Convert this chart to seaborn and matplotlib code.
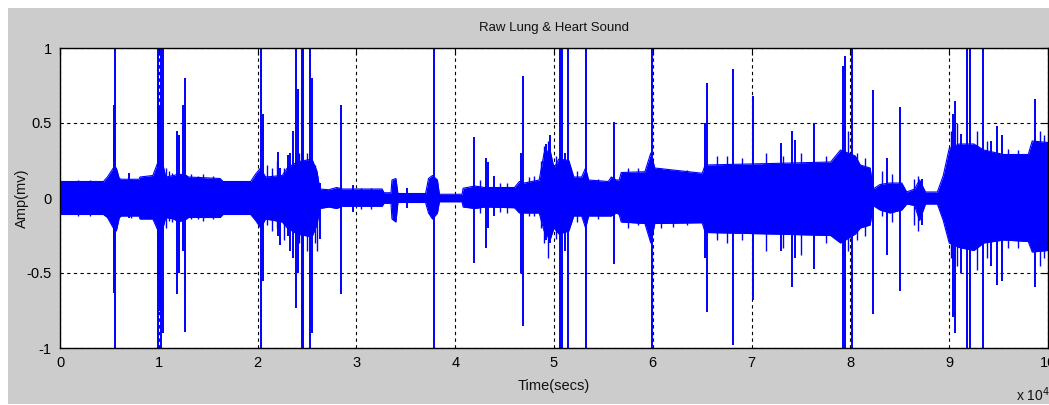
import numpy as np
import pandas as pd
import seaborn as sns
import matplotlib
matplotlib.use("Agg")
import matplotlib.pyplot as plt
from matplotlib.patches import Rectangle
from matplotlib.ticker import FixedLocator, FuncFormatter

# ---------------- data ----------------
# envelope of the dense waveform: sample index, upper and lower amplitude (mV)
env_x = [0, 4400, 4800, 5400, 5700, 6000, 6200, 8000, 8100, 9400, 9800, 10200,
         10500, 10700, 11500, 12000, 12800, 13000, 16200, 16500, 19300, 19800,
         20300, 20800, 22500, 23000, 24000, 25500, 26000, 26300, 27200, 28000,
         28600, 32600, 32800, 33500, 33600, 34000, 34200, 37000, 37300, 37700,
         38200, 38400, 40700, 40800, 42000, 43000, 46000, 46500, 47000, 48500,
         49000, 49600, 50000, 50500, 51500, 52000, 52800, 53200, 53500, 55500,
         55800, 56300, 56600, 56800, 59200, 59800, 60200, 65000, 65300, 72000,
         78000, 79000, 80500, 81000, 82000, 82300, 83000, 84000, 85200, 85700,
         86500, 87000, 87600, 88800, 89400, 90000, 91000, 92500, 93500, 95500,
         98000, 98400, 100000]
env_hi = [0.11, 0.11, 0.14, 0.2, 0.2, 0.13, 0.125, 0.125, 0.14, 0.15, 0.22, 0.28,
          0.2, 0.14, 0.15, 0.16, 0.15, 0.14, 0.13, 0.11, 0.11, 0.16,
          0.2, 0.14, 0.15, 0.2, 0.24, 0.26, 0.18, 0.06, 0.055, 0.07,
          0.06, 0.06, 0.035, 0.035, 0.12, 0.13, 0.03, 0.03, 0.13, 0.15,
          0.12, 0.025, 0.025, 0.065, 0.08, 0.07, 0.07, 0.11, 0.1, 0.12,
          0.3, 0.32, 0.2, 0.26, 0.25, 0.14, 0.14, 0.2, 0.12, 0.11,
          0.14, 0.12, 0.12, 0.17, 0.175, 0.3, 0.2, 0.165, 0.22, 0.23,
          0.24, 0.32, 0.28, 0.22, 0.2, 0.06, 0.09, 0.1, 0.1, 0.04,
          0.06, 0.12, 0.04, 0.04, 0.15, 0.33, 0.36, 0.36, 0.32, 0.29,
          0.29, 0.38, 0.37]
env_lo = [-0.11, -0.11, -0.13, -0.2, -0.22, -0.13, -0.12, -0.12, -0.14, -0.14, -0.2, -0.26,
          -0.18, -0.13, -0.14, -0.16, -0.14, -0.13, -0.13, -0.11, -0.11, -0.15,
          -0.2, -0.14, -0.16, -0.2, -0.24, -0.26, -0.18, -0.07, -0.06, -0.07,
          -0.055, -0.055, -0.035, -0.035, -0.14, -0.16, -0.03, -0.03, -0.1, -0.14,
          -0.1, -0.025, -0.025, -0.06, -0.07, -0.06, -0.065, -0.1, -0.1, -0.1,
          -0.22, -0.28, -0.2, -0.24, -0.22, -0.12, -0.12, -0.2, -0.12, -0.12,
          -0.12, -0.1, -0.11, -0.16, -0.17, -0.3, -0.17, -0.165, -0.23, -0.24,
          -0.25, -0.3, -0.24, -0.2, -0.18, -0.05, -0.08, -0.1, -0.08, -0.04,
          -0.05, -0.15, -0.04, -0.04, -0.15, -0.3, -0.33, -0.35, -0.3, -0.28,
          -0.29, -0.36, -0.35]

# large spikes: sample index, peak (+) and trough (-) amplitude (mV)
spike_x = [5450, 5500, 5566, 6980, 9900, 9918, 10100, 10200, 10424, 11840, 12000,
           12400, 12650, 20340, 20500, 22090, 22260, 23080, 23300, 23600, 23880,
           24050, 24490, 24590, 25300, 25550, 26300, 28440, 29650, 35100, 37850,
           41930, 43110, 43280, 43920, 46700, 46820, 49200, 49590, 50600, 50770,
           51100, 51440, 53230, 56100, 59880, 65300, 65480, 68110, 70130, 72960,
           74080, 74380, 76300, 79240, 79440, 80150, 82280, 83690, 85010, 87200,
           90400, 90570, 91200, 91790, 92090, 93410, 94200, 94820, 95330, 98670]
spike_hi = [0.4, 0.62, 1.0, 0.17, 0.8, 1.0, 0.6, 1.0, 1.0, 0.45, 0.42,
            0.62, 0.8, 1.0, 0.56, 0.31, 0.2, 0.29, 0.3, 0.45, 1.0,
            0.73, 1.0, 1.0, 1.0, 0.8, 0.1, 0.62, 0.09, 0.07, 1.0,
            0.41, 0.27, 0.24, 0.15, 0.3, 0.81, 0.36, 0.42, 1.0, 1.0,
            0.3, 1.0, 1.0, 0.51, 1.0, 0.5, 0.77, 0.86, 0.68, 0.37,
            0.45, 0.39, 0.5, 0.88, 0.95, 1.0, 0.72, 0.27, 0.61, 0.13,
            0.56, 0.65, 0.43, 1.0, 1.0, 1.0, 0.38, 0.48, 0.42, 0.66]
spike_lo = [-0.3, -0.63, -1.0, -0.13, -0.5, -1.0, -0.75, -1.0, -0.9, -0.64, -0.5,
            -0.35, -0.89, -1.0, -0.55, -0.25, -0.31, -0.25, -0.35, -0.4, -0.73,
            -0.5, -1.0, -1.0, -1.0, -0.9, -0.27, -0.64, -0.09, -0.065, -1.0,
            -0.43, -0.33, -0.2, -0.12, -0.5, -0.85, -0.28, -0.3, -1.0, -1.0,
            -0.35, -1.0, -1.0, -0.44, -1.0, -0.4, -0.76, -0.98, -0.68, -0.35,
            -0.59, -0.4, -0.47, -1.0, -1.0, -1.0, -0.77, -0.38, -0.62, -0.18,
            -0.79, -0.9, -0.5, -1.0, -1.0, -1.0, -0.45, -0.58, -0.55, -0.59]

# small ripples poking out of the band
ripple_x = [1800, 3000, 7200, 10700, 11000, 11300, 13300, 14000, 14500, 15500,
            21000, 21500, 22000, 22700, 24200, 25000, 25800, 26000, 30500, 31500,
            42500, 44500, 45200, 47500, 48000, 48700, 49000, 49400, 50200, 52300,
            54500, 57500, 58500, 60800, 62000, 63500, 66500, 67500, 69000, 71500,
            73200, 75000, 77500, 79800, 80700, 81500, 83200, 84200, 86400, 86800,
            90200, 90800, 92800, 93800, 96000, 97000, 99200, 99600]
ripple_hi = [0.12, 0.12, 0.13, 0.2, 0.18, 0.17, 0.16, 0.15, 0.16, 0.15,
             0.22, 0.2, 0.25, 0.2, 0.3, 0.3, 0.22, 0.15, 0.07, 0.07,
             0.12, 0.1, 0.1, 0.14, 0.15, 0.25, 0.35, 0.38, 0.28, 0.18,
             0.13, 0.2, 0.2, 0.2, 0.19, 0.19, 0.28, 0.28, 0.27, 0.3,
             0.28, 0.3, 0.28, 0.45, 0.3, 0.27, 0.18, 0.16, 0.13, 0.15,
             0.45, 0.5, 0.45, 0.38, 0.33, 0.32, 0.45, 0.42]
ripple_lo = [-0.12, -0.12, -0.13, -0.2, -0.15, -0.16, -0.14, -0.14, -0.15, -0.14,
             -0.18, -0.22, -0.2, -0.28, -0.3, -0.35, -0.3, -0.35, -0.07, -0.07,
             -0.1, -0.09, -0.1, -0.12, -0.12, -0.2, -0.3, -0.4, -0.27, -0.16,
             -0.14, -0.2, -0.18, -0.2, -0.19, -0.18, -0.28, -0.3, -0.28, -0.35,
             -0.33, -0.38, -0.3, -0.35, -0.28, -0.25, -0.12, -0.16, -0.18, -0.22,
             -0.4, -0.45, -0.48, -0.4, -0.33, -0.33, -0.45, -0.4]

x_ticks = [0, 10000, 20000, 30000, 40000, 50000, 60000, 70000, 80000, 90000, 100000]
y_ticks = [-1, -0.5, 0, 0.5, 1]
y_tick_labels = ["-1", "-0.5", "0", "0.5", "1"]

title = "Raw Lung & Heart Sound"
x_label = "Time(secs)"
y_label = "Amp(mv)"

# ---------------- styling ----------------
sns.set_style("white")
FONT = ["Liberation Sans", "DejaVu Sans"]
plt.rcParams["font.family"] = FONT

W, H = 1049, 405
fig = plt.figure(figsize=(W / 100, H / 100), dpi=100)
fig.patch.set_facecolor("white")
fig.patches.append(Rectangle((8 / W, 1 / H), 1 - 8 / W, (H - 9) / H,
                             transform=fig.transFigure, facecolor="#cccccc",
                             edgecolor="none", zorder=-10))

ax = fig.add_axes([60 / W, (H - 348) / H, (1048 - 60) / W, 300 / H])
ax.set_facecolor("white")

blue = "#0000ff"
env = pd.DataFrame({"x": env_x, "hi": env_hi, "lo": env_lo})
ax.fill_between(env["x"], env["lo"], env["hi"], color=blue, linewidth=0, zorder=3)
sns.lineplot(data=env, x="x", y="hi", ax=ax, color=blue, linewidth=0.8, zorder=3)
sns.lineplot(data=env, x="x", y="lo", ax=ax, color=blue, linewidth=0.8, zorder=3)
ax.vlines(ripple_x, ripple_lo, ripple_hi, color=blue, linewidth=1.0, zorder=3)
ax.vlines(spike_x, spike_lo, spike_hi, color=blue, linewidth=1.4, zorder=3)

ax.set_xlim(0, 100000)
ax.set_ylim(-1, 1)
ax.xaxis.set_major_locator(FixedLocator(x_ticks))
ax.xaxis.set_major_formatter(FuncFormatter(lambda v, p: f"{v / 1e4:g}"))
ax.set_yticks(y_ticks)
ax.set_yticklabels(y_tick_labels)

ax.grid(True, color="black", linestyle=(0, (3, 3)), linewidth=0.8, zorder=1)
ax.set_axisbelow(True)
for s in ax.spines.values():
    s.set_color("black")
    s.set_linewidth(1.0)
    s.set_zorder(5)
ax.tick_params(direction="in", length=5, width=0.8, color="black",
               labelsize=10.5, labelcolor="black", top=True, right=True, pad=6)
ax.set_xlabel("")
ax.set_ylabel("")

fig.text(554 / W, 1 - 28 / H, title, ha="center", va="center", fontsize=9.5,
         color="#111111")
fig.text(554 / W, 1 - 386 / H, x_label, ha="center", va="center", fontsize=10.5,
         color="#111111")
fig.text(22 / W, 1 - 198 / H, y_label, ha="center", va="center", fontsize=10.5,
         rotation=90, color="#111111")
fig.text(1016 / W, 1 - 395 / H, r"x 10$^{4}$", ha="left", va="center",
         fontsize=10, color="#111111")

fig.savefig("out.png", dpi=100, facecolor=fig.get_facecolor())
